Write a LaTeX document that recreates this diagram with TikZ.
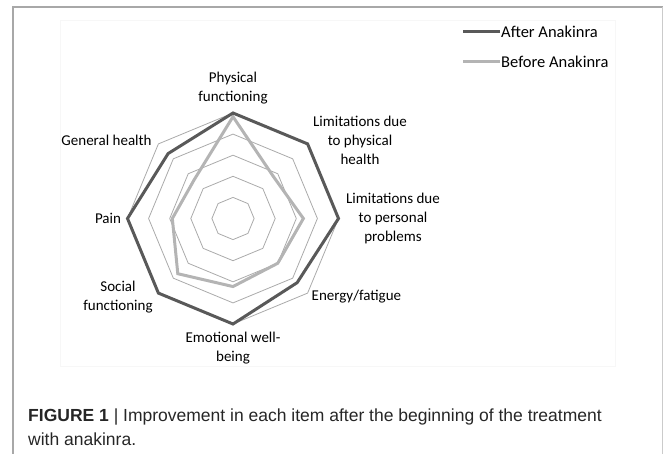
\documentclass[tikz,border=0pt]{standalone}
\usepackage{fontspec}
\setmainfont{Carlito}
\newfontfamily\capfont{Liberation Sans}
\definecolor{ringgray}{RGB}{170,170,170}
\definecolor{aftergray}{RGB}{89,89,89}
\definecolor{beforegray}{RGB}{180,180,180}
\definecolor{framegray}{RGB}{168,168,168}
\tikzset{
  ring/.style={draw=ringgray, line width=.8pt},
  afterline/.style={draw=aftergray, line width=3pt},
  beforeline/.style={draw=beforegray, line width=3pt},
  axislabel/.style={align=center, inner sep=0pt,
    font=\fontsize{15}{19}\selectfont},
  legendlabel/.style={anchor=west, inner sep=1pt,
    font=\fontsize{16.5}{19}\selectfont},
}
\begin{document}
\begin{tikzpicture}[x=1pt,y=-1pt] %% pixel coordinates, y downwards
  \useasboundingbox (0,0) rectangle (663,454);
  % frame
  \draw[framegray, line width=2pt] (13,454) -- (13,7) -- (663,7);%
  \draw[framegray!60, line width=.6pt] (662,7) -- (662,454);%
  \draw[black!3, line width=.6pt] (60,20) rectangle (615,366);%

  \begin{scope}[shift={(233,218.5)}]
    % rings
    \foreach \k in {1, ..., 5} \draw[ring] (-90:{\k*21.1})
    \foreach \a in {-45, 0, ..., 225} { -- (\a:{\k*21.1}) } -- cycle;%

    % after / before anakinra
    \foreach \v [count=\i] in {1, 1, 1, .86, 1, 1, 1, .87}
    \coordinate (a\i) at ({-135+45*\i}:{\v*105.5});%
    \foreach \v [count=\i] in {.965, .55, .667, .6, .645, .74, .575, .52}
    \coordinate (b\i) at ({-135+45*\i}:{\v*105.5});%
    \draw[beforeline] (b1) -- (b2) -- (b3) -- (b4) -- (b5) -- (b6) -- (b7)
    -- (b8) -- cycle;
    \draw[afterline] (a1) -- (a2) -- (a3) -- (a4) -- (a5) -- (a6) -- (a7)
    -- (a8) -- cycle;
  \end{scope}

  % axis labels
  \node[axislabel] (pf) at (233,88) {Physical\\functioning};
  \node[axislabel] (lph) at (360,140) {Limitations due\\to physical\\health};
  \node[axislabel] (lpp) at (393,218.5) {Limitations due\\to personal\\problems};
  \node[axislabel, anchor=west] (ef) at (311.5,297) {Energy/fatigue};
  \node[axislabel] (ew) at (233,348) {Emotional well-\\being};
  \node[axislabel] (sf) at (118,297) {Social\\functioning};
  \node[axislabel] (pain) at (108,218) {Pain};
  \node[axislabel] (gh) at (106.5,140) {General health};

  % legend
  \coordinate (la) at (463,32);
  \coordinate (lb) at (463,62);
  \node[legendlabel] (after) at (500,32) {After Anakinra};
  \node[legendlabel] (before) at (500,62) {Before Anakinra};
  \draw[afterline] (la) -- (after.west);
  \draw[beforeline] (lb) -- (before.west);

  % caption
  \node[anchor=base west, inner sep=0pt, align=left, text=black!85,
  font=\capfont\fontsize{17.5}{24}\selectfont] (cap) at (28,445)
  {\textbf{FIGURE 1} | Improvement in each item after the beginning of the treatment\\
    with anakinra.};
\end{tikzpicture}
\end{document}
